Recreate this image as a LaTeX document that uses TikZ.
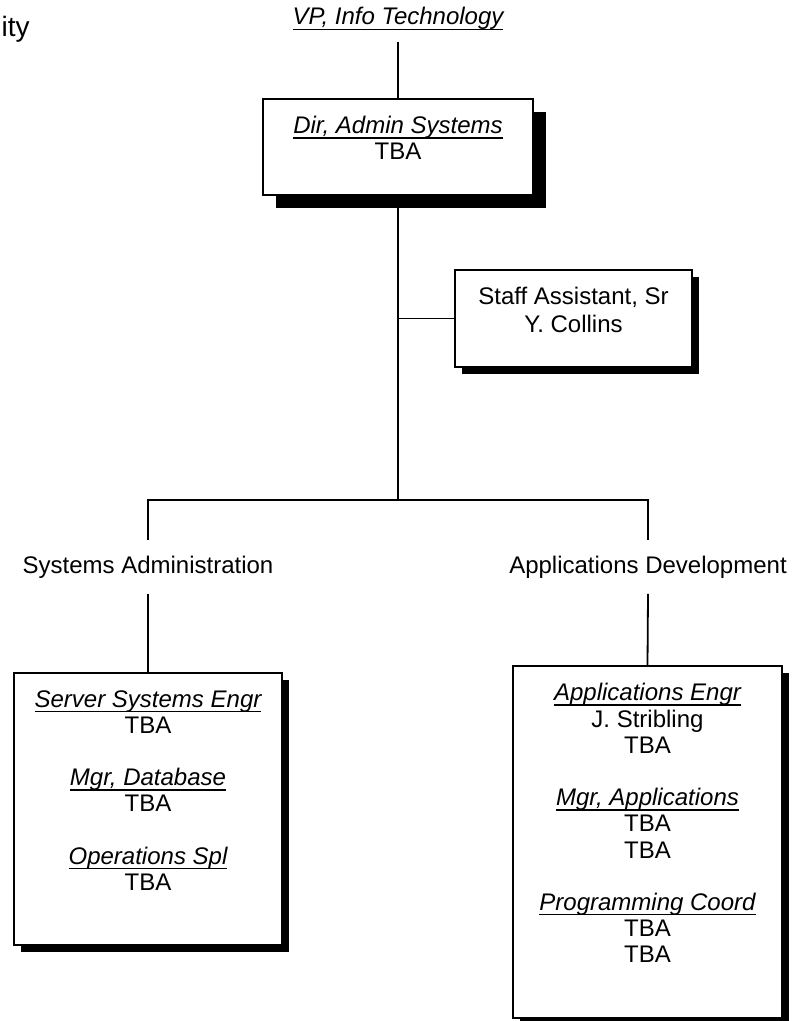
\documentclass[tikz,border=0pt]{standalone}
\usepackage{fontspec}
\setmainfont{Liberation Sans}
\usepackage{tikz}
\usetikzlibrary{positioning,shadows}

\newcommand{\jobtitle}[1]{\setbox0\hbox{\itshape #1}\rlap{\rule[-2.5pt]{\wd0}{0.7pt}}\box0}

\begin{document}
\begin{tikzpicture}[x=0.5pt,y=-0.5pt,
	orgbox/.style={draw,line width=0.9pt,fill=white,inner sep=0pt},
	shadesm/.style={drop shadow={shadow xshift=3.5pt,shadow yshift=-3.5pt,fill=black,opacity=1}},
	shadebig/.style={drop shadow={shadow xshift=6.5pt,shadow yshift=-6.5pt,fill=black,opacity=1}},
	boxtext/.style={anchor=north,align=center,inner sep=0pt,font=\fontsize{12}{13.1}\selectfont},
	section/.style={anchor=base,inner sep=0pt,outer ysep=8pt,font=\fontsize{12}{13.1}\selectfont},
	link/.style={line width=0.9pt}]
	\clip (0,0) rectangle (795,1021);
	
	%draw boxes
	\node[orgbox,shadebig,minimum width=135pt,minimum height=48pt] (dir) at (398,147) {};
	\node[orgbox,shadesm,minimum width=118.5pt,minimum height=48.5pt] (staff) at (573.5,318.5) {};
	\node[orgbox,shadesm,minimum width=134pt,minimum height=136pt] (sysbox) at (148,809) {};
	\node[orgbox,shadesm,minimum width=134.5pt,minimum height=176pt] (appbox) at (647.5,842) {};
	
	% draw nodes
	\node[anchor=base east,inner sep=0pt,font=\fontsize{14}{15}\selectfont] (univ) at (30,37) {ity};
	\node[anchor=base,inner sep=0pt,outer ysep=6pt,font=\fontsize{12}{13.1}\selectfont] (vp) at (398,25) {\jobtitle{VP, Info Technology}};
	\node[boxtext] (dirtxt) at (398,116) {\jobtitle{Dir, Admin Systems}\\TBA};
	\node[boxtext,font=\fontsize{12}{14}\selectfont] (stafftxt) at (573.5,287) {Staff Assistant, Sr\\Y. Collins};
	\node[section] (sysadm) at (148,573) {Systems Administration};
	\node[section] (appdev) at (648,573) {Applications Development};
	\node[boxtext] (systxt) at (148,690) {\jobtitle{Server Systems Engr}\\TBA\\[13.1pt]
		\jobtitle{Mgr, Database}\\TBA\\[13.1pt]
		\jobtitle{Operations Spl}\\TBA};
	\node[boxtext] (apptxt) at (647.5,683) {\jobtitle{Applications Engr}\\J. Stribling\\TBA\\[13.1pt]
		\jobtitle{Mgr, Applications}\\TBA\\TBA\\[13.1pt]
		\jobtitle{Programming Coord}\\TBA\\TBA};
	
	%%%lines
	\coordinate (split) at (398,500);
	\draw[link] (vp.south) -- (dir.north);
	\draw[link] (dir.south) -- (split);
	\draw[link] (dir.south |- staff.west) -- (staff.west);
	\draw[link] (sysadm.north) |- (split) -| (appdev.north);
	\draw[link] (sysadm.south) -- (sysbox.north);
	\draw[link] (appdev.south) -- (appbox.north);
	
\end{tikzpicture}
\end{document}
